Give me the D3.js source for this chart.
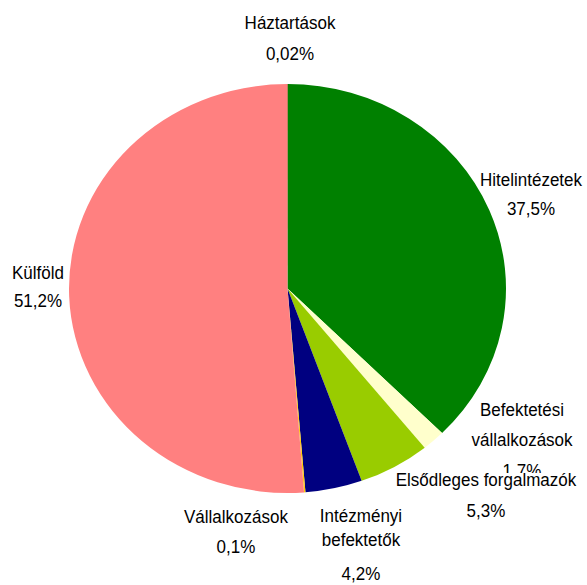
<!DOCTYPE html>
<html>
<head>
<meta charset="utf-8">
<script src="https://cdn.jsdelivr.net/npm/d3@7"></script>
<style>
  html, body { margin: 0; padding: 0; background: #fff; }
  svg { display: block; }
  text { font-family: "Liberation Sans", Arial, sans-serif; fill: #000; }
</style>
</head>
<body>
<svg id="chart" width="587" height="585"></svg>
<script>
// ---- Data ----
const categories = ["Hitelintézetek", "Befektetési vállalkozások", "Elsődleges forgalmazók",
                    "Intézményi befektetők", "Vállalkozások", "Külföld", "Háztartások"];
const values = [37.5, 1.7, 5.3, 4.2, 0.1, 51.2, 0.02];
const valueLabels = ["37,5%", "1,7%", "5,3%", "4,2%", "0,1%", "51,2%", "0,02%"];
const nameLines = [["Hitelintézetek"], ["Befektetési", "vállalkozások"], ["Elsődleges forgalmazók"],
                   ["Intézményi", "befektetők"], ["Vállalkozások"], ["Külföld"], ["Háztartások"]];
const colors = ["#008000", "#FFFFCC", "#99CC00", "#000080", "#FFCC00", "#FF8080", "#FF0000"];

// ---- Layout (label anchor x and baselines per line) ----
const labelLayout = [
  { x: 531, ys: [186, 215] },
  { x: 522, ys: [416, 446, 477] },
  { x: 486, ys: [486, 517] },
  { x: 361, ys: [522, 546, 580] },
  { x: 236, ys: [523, 553] },
  { x: 38,  ys: [279, 307] },
  { x: 290, ys: [29, 60] }
];

const svg = d3.select("#chart");
const cx = 287.5, cy = 288.5, rx = 218.5, ry = 204.5;

const pie = d3.pie().sort(null).value(d => d)(values);
const arc = d3.arc().innerRadius(0).outerRadius(rx);

const g = svg.append("g")
  .attr("transform", `translate(${cx},${cy}) scale(1,${ry / rx})`);

g.selectAll("path")
  .data(pie)
  .join("path")
  .attr("d", arc)
  .attr("fill", (d, i) => colors[i]);

// ---- Labels (each label drawn as a block; later labels sit on top with an opaque box) ----
const labels = svg.append("g");
categories.forEach((c, i) => {
  const L = labelLayout[i];
  const lines = nameLines[i].concat([valueLabels[i]]);
  const grp = labels.append("g");
  const texts = lines.map((t, j) =>
    grp.append("text")
      .attr("transform", `translate(${L.x},${L.ys[j]}) scale(0.92,1)`)
      .attr("text-anchor", "middle")
      .attr("font-size", 18.5)
      .text(t));
  if (i === 2) {
    // Excel-style opaque label box for this label (covers part of the neighbouring label)
    const bb = texts[0].node().getBBox();
    const w = bb.width * 0.92;
    grp.insert("rect", "text")
      .attr("x", L.x - w / 2 - 1)
      .attr("y", L.ys[0] - 13)
      .attr("width", w + 2)
      .attr("height", 17)
      .attr("fill", "#fff");
  }
});
</script>
</body>
</html>
